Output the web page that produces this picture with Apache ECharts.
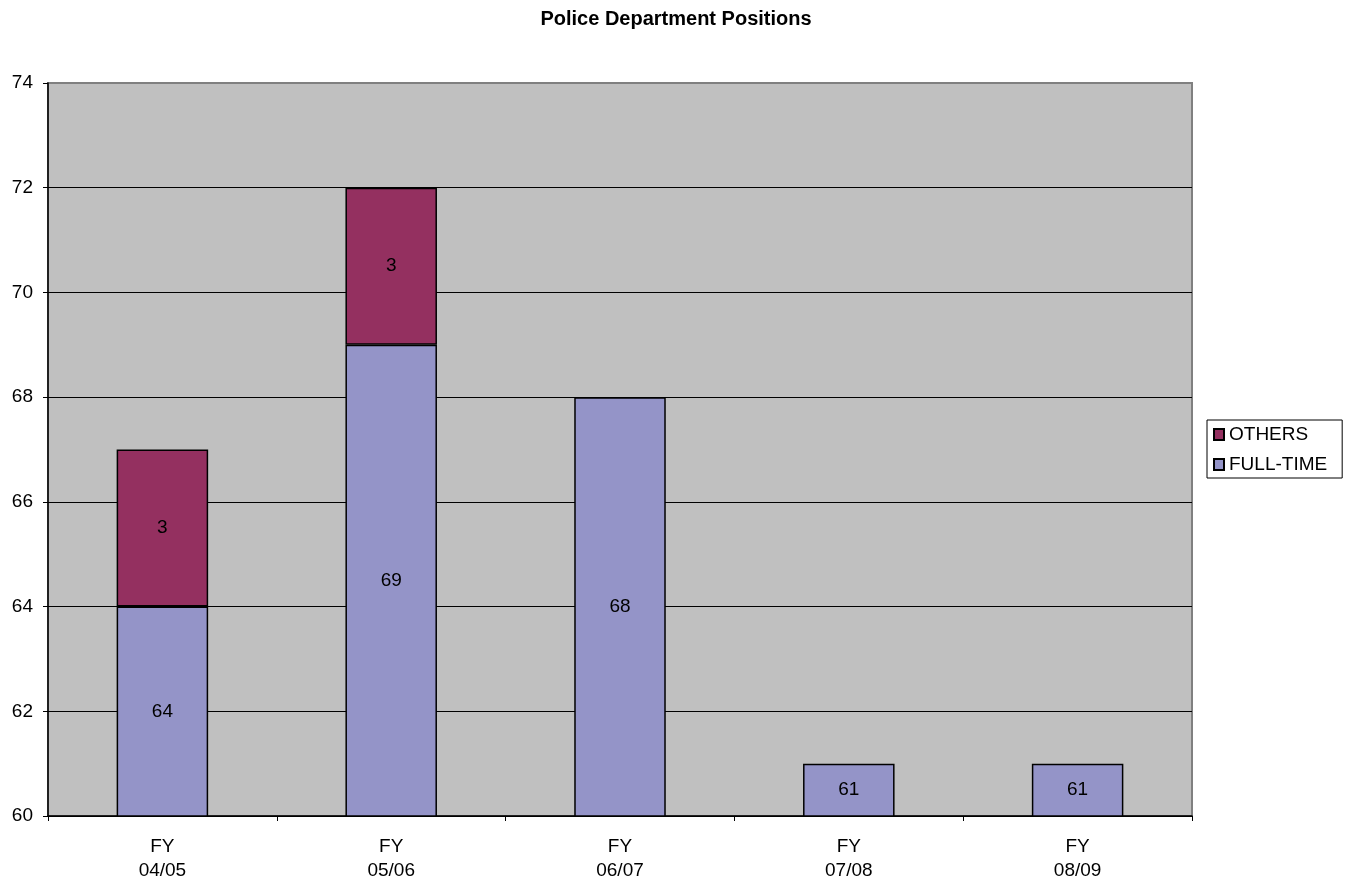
<!DOCTYPE html>
<html>
<head>
<meta charset="utf-8">
<script src="https://cdn.jsdelivr.net/npm/echarts@6/dist/echarts.min.js"></script>
<style>
html,body{margin:0;padding:0;background:#fff;}
#chart{width:1351px;height:884px;}
</style>
</head>
<body>
<div id="chart"></div>
<script>
var categories = ['FY\n04/05', 'FY\n05/06', 'FY\n06/07', 'FY\n07/08', 'FY\n08/09'];
var fullTime = [64, 69, 68, 61, 61];
var others = [3, 3, '-', '-', '-'];
var yTicks = {min: 60, max: 74, interval: 2};

var FONT = 'Liberation Sans, Arial, sans-serif';
var chart = echarts.init(document.getElementById('chart'));
chart.setOption({
  animation: false,
  backgroundColor: '#ffffff',
  title: {
    text: 'Police Department Positions',
    left: 671, textAlign: 'center', top: 4,
    textStyle: {fontFamily: FONT, fontSize: 20, fontWeight: 'bold', color: '#000'}
  },
  legend: {
    orient: 'vertical',
    left: 1207, top: 420,
    data: ['OTHERS', 'FULL-TIME'],
    icon: 'rect',
    itemWidth: 10, itemHeight: 11,
    itemGap: 11,
    itemTextGap: 10,
    padding: [5, 15, 4, 6],
    borderColor: '#000', borderWidth: 1,
    textStyle: {fontFamily: FONT, fontSize: 19, color: '#000'}
  },
  grid: {
    left: 48, right: 159, top: 83, bottom: 68,
    show: true, backgroundColor: '#c0c0c0', borderColor: '#808080', borderWidth: 2
  },
  xAxis: {
    type: 'category',
    data: categories,
    boundaryGap: true,
    axisLine: {lineStyle: {color: '#000', width: 1.5}},
    axisTick: {show: true, length: 5, lineStyle: {color: '#000'}},
    axisLabel: {fontFamily: FONT, fontSize: 19, color: '#000', margin: 19, lineHeight: 24}
  },
  yAxis: {
    type: 'value',
    min: yTicks.min, max: yTicks.max, interval: yTicks.interval,
    axisLine: {show: true, lineStyle: {color: '#000', width: 1.5}},
    axisTick: {show: true, length: 5, lineStyle: {color: '#000'}},
    axisLabel: {fontFamily: FONT, fontSize: 19, color: '#000', margin: 15},
    splitLine: {show: true, lineStyle: {
      color: ['#000', '#000', '#000', '#000', '#000', '#000', '#000', '#808080'],
      width: 1}}
  },
  series: [
    {
      name: 'FULL-TIME', type: 'bar', stack: 'total', data: fullTime,
      barWidth: '40%',
      itemStyle: {color: '#9494c8', borderColor: '#000', borderWidth: 1.5},
      label: {show: true, position: 'inside', fontFamily: FONT, fontSize: 19, color: '#000'}
    },
    {
      name: 'OTHERS', type: 'bar', stack: 'total', data: others,
      barWidth: '40%',
      itemStyle: {color: '#943060', borderColor: '#000', borderWidth: 1.5},
      label: {show: true, position: 'inside', fontFamily: FONT, fontSize: 19, color: '#000'}
    }
  ]
});
</script>
</body>
</html>
